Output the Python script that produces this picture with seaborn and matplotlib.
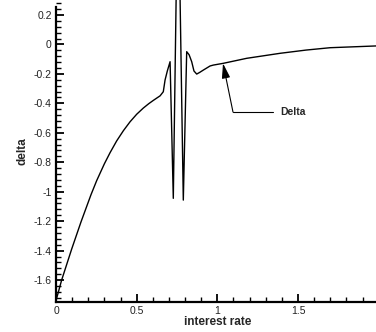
import matplotlib
matplotlib.use("Agg")
import matplotlib.pyplot as plt
import seaborn as sns
import pandas as pd
from matplotlib.ticker import MultipleLocator

# Data
rate = [0.0, 0.035, 0.097, 0.155, 0.217, 0.252, 0.30, 0.335, 0.376, 0.418,
        0.459, 0.50, 0.541, 0.575, 0.603, 0.634, 0.645, 0.665, 0.676, 0.69, 0.707,
        0.727, 0.756, 0.789, 0.810, 0.825, 0.841, 0.855, 0.872, 0.89, 0.913,
        0.955, 0.975, 1.037, 1.182, 1.389, 1.55, 1.699, 1.984, 2.0]
delta = [-1.74, -1.6, -1.39, -1.205, -1.02, -0.925, -0.81, -0.735, -0.655, -0.585,
         -0.525, -0.474, -0.432, -0.402, -0.380, -0.357, -0.349, -0.321, -0.241, -0.18, -0.117,
         -1.045, 1.2, -1.057, -0.049, -0.07, -0.117, -0.18, -0.201, -0.19, -0.174,
         -0.146, -0.140, -0.128, -0.094, -0.060, -0.038, -0.022, -0.010, -0.010]

xticks = [0, 0.5, 1, 1.5, 2]
xtick_labels = ["0", "0.5", "1", "1.5", "2"]
yticks = [-1.6, -1.4, -1.2, -1, -0.8, -0.6, -0.4, -0.2, 0, 0.2]
ytick_labels = ["-1.6", "-1.4", "-1.2", "-1", "-0.8", "-0.6", "-0.4", "-0.2", "0", "0.2"]

sns.set_style("white")
plt.rcParams['font.family'] = ['Liberation Sans', 'DejaVu Sans']

fig = plt.figure(figsize=(3.76, 3.32), dpi=100)
ax = fig.add_axes([56/376, 30/332, 322.7/376, 302/332])

df = pd.DataFrame({"interest rate": rate, "delta": delta})
sns.lineplot(data=df, x="interest rate", y="delta", sort=False, estimator=None,
             color="black", lw=1.0, ax=ax)

ax.set_xlim(0, 2)
ax.set_ylim(-1.749, 0.302)
ax.spines['top'].set_visible(False)
ax.spines['right'].set_visible(False)
ax.spines['left'].set_bounds(-1.749, 0.254)
for s in ['left', 'bottom']:
    ax.spines[s].set_color('black')
    ax.spines[s].set_linewidth(1.6)

ax.set_xticks(xticks)
ax.set_xticklabels(xtick_labels)
ax.set_yticks(yticks)
ax.set_yticklabels(ytick_labels)
ax.xaxis.set_minor_locator(MultipleLocator(0.1))
ax.yaxis.set_minor_locator(MultipleLocator(0.04))
ax.tick_params(axis='both', which='major', direction='in', length=6, width=1.3,
               labelsize=7.5, labelcolor='#222222', colors='black', pad=3)
ax.tick_params(axis='both', which='minor', direction='in', length=3.5, width=1.0,
               colors='black')
ax.tick_params(axis='x', which='both', bottom=True)
ax.tick_params(axis='y', which='both', left=True)

ax.set_xlabel("interest rate", fontsize=8.5, fontweight='bold', labelpad=0)
ax.set_ylabel("delta", fontsize=8.5, fontweight='bold', labelpad=4)

# annotation
ax.plot([1.345, 1.097], [-0.459, -0.459], color='black', lw=0.8)
ax.annotate("", xy=(1.035, -0.128), xytext=(1.097, -0.459),
            arrowprops=dict(arrowstyle='-|>,head_length=0.9,head_width=0.25',
                            color='black', lw=0.8,
                            mutation_scale=10, shrinkA=0, shrinkB=0))
ax.text(1.39, -0.459, "Delta", fontsize=7.5, fontweight='bold', ha='left', va='center')

fig.savefig("out.png", dpi=100)
